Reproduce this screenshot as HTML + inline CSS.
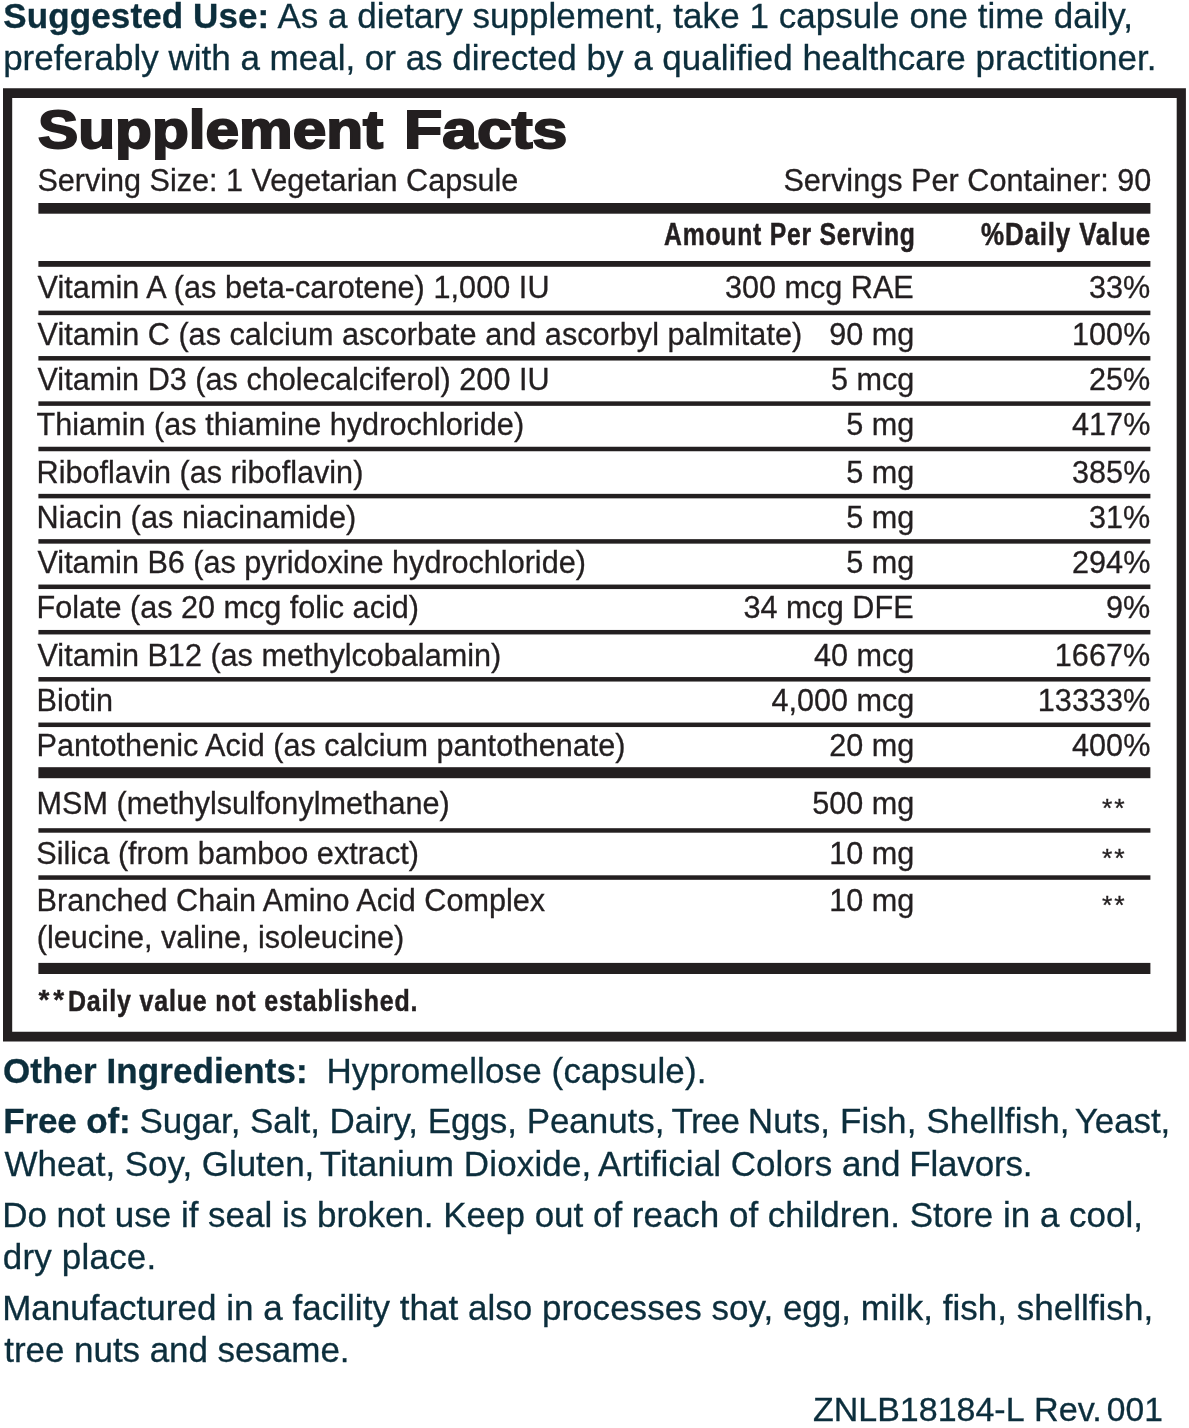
<!DOCTYPE html>
<html lang="en">
<head>
<meta charset="utf-8">
<title>Supplement Facts</title>
<style>
html,body{margin:0;padding:0;background:#fff;}
body{width:1189px;height:1428px;position:relative;overflow:hidden;font-family:"Liberation Sans",sans-serif;color:#231f20;}
.t{position:absolute;white-space:nowrap;line-height:1;transform-origin:0 0;-webkit-text-stroke:0.3px currentColor;}
.g{position:absolute;left:0;top:0;}
</style>
</head>
<body>
<svg class="g" width="1189" height="1428" viewBox="0 0 1189 1428" shape-rendering="geometricPrecision">
<path fill="#231f20" fill-rule="evenodd" d="M3.0 88.25H1185.9V1041.5H3.0Z M12.20 98.00V1031.75H1176.70V98.00Z"/>
<rect fill="#231f20" x="38.4" y="203.00" width="1112.00" height="10.70"/>
<rect fill="#231f20" x="38.4" y="261.00" width="1112.00" height="5.80"/>
<rect fill="#231f20" x="38.4" y="310.65" width="1112.00" height="4.50"/>
<rect fill="#231f20" x="38.4" y="356.05" width="1112.00" height="4.50"/>
<rect fill="#231f20" x="38.4" y="401.35" width="1112.00" height="4.50"/>
<rect fill="#231f20" x="38.4" y="446.75" width="1112.00" height="4.50"/>
<rect fill="#231f20" x="38.4" y="493.85" width="1112.00" height="4.50"/>
<rect fill="#231f20" x="38.4" y="539.15" width="1112.00" height="4.50"/>
<rect fill="#231f20" x="38.4" y="584.55" width="1112.00" height="4.50"/>
<rect fill="#231f20" x="38.4" y="629.95" width="1112.00" height="4.50"/>
<rect fill="#231f20" x="38.4" y="677.05" width="1112.00" height="4.50"/>
<rect fill="#231f20" x="38.4" y="722.55" width="1112.00" height="4.50"/>
<rect fill="#231f20" x="38.4" y="767.20" width="1112.00" height="11.00"/>
<rect fill="#231f20" x="38.4" y="828.20" width="1112.00" height="4.50"/>
<rect fill="#231f20" x="38.4" y="875.30" width="1112.00" height="4.50"/>
<rect fill="#231f20" x="38.4" y="962.90" width="1112.00" height="11.10"/>
</svg>
<div class="t" style="left:3.36px;top:-2px;font-size:35px;font-weight:bold;color:#0c2e3c;letter-spacing:0.106px;">Suggested Use:</div>
<div class="t" style="left:277.40px;top:-2px;font-size:35px;color:#0c2e3c;letter-spacing:0.041px;">As a dietary supplement, take 1 capsule one time daily,</div>
<div class="t" style="left:3.17px;top:40px;font-size:35px;color:#0c2e3c;letter-spacing:-0.006px;">preferably with a meal, or as directed by a qualified healthcare practitioner.</div>
<div class="t" style="left:38.43px;top:103px;font-size:53px;font-weight:bold;transform:scaleX(1.1380);-webkit-text-stroke:2px #231f20;">Supplement</div>
<div class="t" style="left:404.00px;top:103px;font-size:53px;font-weight:bold;transform:scaleX(1.1803);-webkit-text-stroke:2px #231f20;">Facts</div>
<div class="t" style="left:37.38px;top:165px;font-size:30.6px;letter-spacing:-0.013px;">Serving Size: 1 Vegetarian Capsule</div>
<div class="t" style="left:783.38px;top:165px;font-size:30.6px;letter-spacing:0.021px;">Servings Per Container: 90</div>
<div class="t" style="left:663.78px;top:219px;font-size:31.6px;font-weight:bold;letter-spacing:1.000px;transform:scaleX(0.7825);-webkit-text-stroke:0.5px #231f20;">Amount Per Serving</div>
<div class="t" style="left:981.40px;top:219px;font-size:31.6px;font-weight:bold;letter-spacing:1.000px;transform:scaleX(0.8220);-webkit-text-stroke:0.5px #231f20;">%Daily Value</div>
<div class="t" style="left:37.51px;top:272px;font-size:30.6px;letter-spacing:0.067px;">Vitamin A (as beta-carotene) 1,000 IU</div>
<div class="t" style="left:724.98px;top:272px;font-size:30.6px;">300 mcg RAE</div>
<div class="t" style="left:1089.10px;top:272px;font-size:30.6px;">33%</div>
<div class="t" style="left:37.51px;top:319px;font-size:30.6px;letter-spacing:0.033px;">Vitamin C (as calcium ascorbate and ascorbyl palmitate)</div>
<div class="t" style="left:829.31px;top:319px;font-size:30.6px;">90 mg</div>
<div class="t" style="left:1072.10px;top:319px;font-size:30.6px;">100%</div>
<div class="t" style="left:37.51px;top:364px;font-size:30.6px;letter-spacing:0.022px;">Vitamin D3 (as cholecalciferol) 200 IU</div>
<div class="t" style="left:830.98px;top:364px;font-size:30.6px;">5 mcg</div>
<div class="t" style="left:1089.10px;top:364px;font-size:30.6px;">25%</div>
<div class="t" style="left:36.46px;top:409px;font-size:30.6px;letter-spacing:0.039px;">Thiamin (as thiamine hydrochloride)</div>
<div class="t" style="left:846.31px;top:409px;font-size:30.6px;">5 mg</div>
<div class="t" style="left:1072.10px;top:409px;font-size:30.6px;">417%</div>
<div class="t" style="left:36.59px;top:457px;font-size:30.6px;letter-spacing:0.011px;">Riboflavin (as riboflavin)</div>
<div class="t" style="left:846.31px;top:457px;font-size:30.6px;">5 mg</div>
<div class="t" style="left:1072.10px;top:457px;font-size:30.6px;">385%</div>
<div class="t" style="left:36.59px;top:502px;font-size:30.6px;letter-spacing:0.076px;">Niacin (as niacinamide)</div>
<div class="t" style="left:846.31px;top:502px;font-size:30.6px;">5 mg</div>
<div class="t" style="left:1089.10px;top:502px;font-size:30.6px;">31%</div>
<div class="t" style="left:37.51px;top:547px;font-size:30.6px;letter-spacing:-0.009px;">Vitamin B6 (as pyridoxine hydrochloride)</div>
<div class="t" style="left:846.31px;top:547px;font-size:30.6px;">5 mg</div>
<div class="t" style="left:1072.10px;top:547px;font-size:30.6px;">294%</div>
<div class="t" style="left:36.59px;top:592px;font-size:30.6px;letter-spacing:-0.009px;">Folate (as 20 mcg folic acid)</div>
<div class="t" style="left:743.55px;top:592px;font-size:30.6px;">34 mcg DFE</div>
<div class="t" style="left:1106.10px;top:592px;font-size:30.6px;">9%</div>
<div class="t" style="left:37.51px;top:640px;font-size:30.6px;">Vitamin B12 (as methylcobalamin)</div>
<div class="t" style="left:813.98px;top:640px;font-size:30.6px;">40 mcg</div>
<div class="t" style="left:1054.86px;top:640px;font-size:30.6px;">1667%</div>
<div class="t" style="left:36.59px;top:685px;font-size:30.6px;">Biotin</div>
<div class="t" style="left:771.44px;top:685px;font-size:30.6px;">4,000 mcg</div>
<div class="t" style="left:1037.86px;top:685px;font-size:30.6px;">13333%</div>
<div class="t" style="left:36.59px;top:730px;font-size:30.6px;letter-spacing:0.012px;">Pantothenic Acid (as calcium pantothenate)</div>
<div class="t" style="left:829.31px;top:730px;font-size:30.6px;">20 mg</div>
<div class="t" style="left:1072.10px;top:730px;font-size:30.6px;">400%</div>
<div class="t" style="left:36.59px;top:788px;font-size:30.6px;">MSM (methylsulfonylmethane)</div>
<div class="t" style="left:812.31px;top:788px;font-size:30.6px;">500 mg</div>
<div class="t" style="left:1102.12px;top:795px;font-size:26.7px;letter-spacing:1.859px;">**</div>
<div class="t" style="left:36.33px;top:838px;font-size:30.6px;">Silica (from bamboo extract)</div>
<div class="t" style="left:829.31px;top:838px;font-size:30.6px;">10 mg</div>
<div class="t" style="left:1102.12px;top:845px;font-size:26.7px;letter-spacing:1.859px;">**</div>
<div class="t" style="left:36.59px;top:885px;font-size:30.6px;">Branched Chain Amino Acid Complex</div>
<div class="t" style="left:829.31px;top:885px;font-size:30.6px;">10 mg</div>
<div class="t" style="left:1102.12px;top:892px;font-size:26.7px;letter-spacing:1.859px;">**</div>
<div class="t" style="left:36.86px;top:922px;font-size:30.6px;">(leucine, valine, isoleucine)</div>
<div class="t" style="left:38.48px;top:986px;font-size:28px;font-weight:bold;letter-spacing:4.000px;">**</div>
<div class="t" style="left:67.97px;top:985px;font-size:30.4px;font-weight:bold;letter-spacing:1.000px;transform:scaleX(0.8211);-webkit-text-stroke:0.5px #231f20;">Daily value not established.</div>
<div class="t" style="left:3.02px;top:1053px;font-size:35px;font-weight:bold;color:#0c2e3c;letter-spacing:0.078px;">Other Ingredients:</div>
<div class="t" style="left:326.39px;top:1053px;font-size:35px;color:#0c2e3c;letter-spacing:0.120px;">Hypromellose (capsule).</div>
<div class="t" style="left:3.34px;top:1103px;font-size:35px;font-weight:bold;color:#0c2e3c;letter-spacing:-0.155px;">Free of:</div>
<div class="t" style="left:139.47px;top:1103px;font-size:35px;color:#0c2e3c;letter-spacing:-0.048px;">Sugar, Salt, Dairy, Eggs, Peanuts,</div>
<div class="t" style="left:671.62px;top:1103px;font-size:35px;color:#0c2e3c;letter-spacing:-0.810px;">Tree</div>
<div class="t" style="left:747.87px;top:1103px;font-size:35px;color:#0c2e3c;letter-spacing:0.125px;">Nuts, Fish, Shellfish,</div>
<div class="t" style="left:1074.71px;top:1103px;font-size:35px;color:#0c2e3c;letter-spacing:-0.078px;">Yeast,</div>
<div class="t" style="left:4.54px;top:1146px;font-size:35px;color:#0c2e3c;letter-spacing:-0.045px;">Wheat, Soy, Gluten,</div>
<div class="t" style="left:319.82px;top:1146px;font-size:35px;color:#0c2e3c;letter-spacing:0.152px;">Titanium Dioxide,</div>
<div class="t" style="left:598.03px;top:1146px;font-size:35px;color:#0c2e3c;letter-spacing:0.047px;">Artificial Colors and</div>
<div class="t" style="left:909.24px;top:1146px;font-size:35px;color:#0c2e3c;letter-spacing:-0.165px;">Flavors.</div>
<div class="t" style="left:2.13px;top:1197px;font-size:35px;color:#0c2e3c;letter-spacing:-0.016px;">Do not use if seal is broken. Keep out of reach of children. Store in a cool,</div>
<div class="t" style="left:2.77px;top:1239px;font-size:35px;color:#0c2e3c;letter-spacing:0.188px;">dry place.</div>
<div class="t" style="left:2.13px;top:1290px;font-size:35px;color:#0c2e3c;letter-spacing:0.025px;">Manufactured in a facility that also processes soy, egg, milk, fish, shellfish,</div>
<div class="t" style="left:4.37px;top:1332px;font-size:35px;color:#0c2e3c;letter-spacing:-0.058px;">tree nuts and sesame.</div>
<div class="t" style="left:813.30px;top:1393px;font-size:33.6px;color:#0c2e3c;transform:scaleX(1.0118);">ZNLB18184-L</div>
<div class="t" style="left:1033.79px;top:1393px;font-size:33.6px;color:#0c2e3c;transform:scaleX(1.0183);">Rev.</div>
<div class="t" style="left:1106.87px;top:1393px;font-size:33.6px;color:#0c2e3c;">001</div>
</body>
</html>
